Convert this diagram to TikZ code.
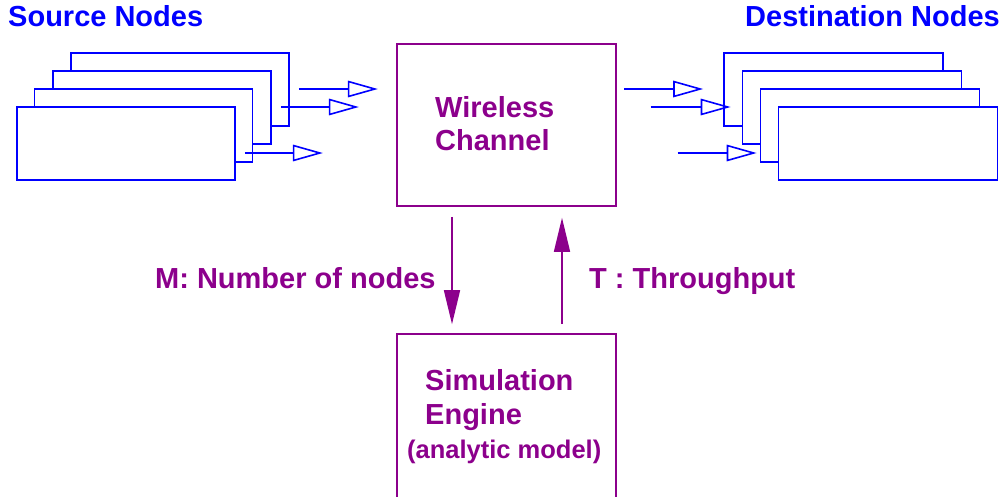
\documentclass[tikz,border=0pt]{standalone}
\usepackage{fontspec}
\setmainfont{Liberation Sans}
\usetikzlibrary{arrows.meta}
\definecolor{netblue}{RGB}{0,0,255}
\definecolor{simpurple}{RGB}{140,0,140}
\begin{document}
\begin{tikzpicture}[x=1pt,y=-1pt,
  nodecard/.style={draw=netblue,fill=white,line width=1.7pt,minimum width=218pt,minimum height=73pt,inner sep=0pt},
  destcard/.style={nodecard,minimum width=219pt},
  block/.style={draw=simpurple,line width=1.6pt,minimum width=219pt,inner sep=0pt},
  flow/.style={draw=netblue,line width=1.6pt,-{Triangle[open,length=30pt,width=16.5pt]}},
  link/.style={draw=simpurple,line width=1.6pt,-{Triangle[length=34pt,width=16pt]}},
  heading/.style={inner sep=0pt,anchor=base west,text=netblue,font=\bfseries\fontsize{29}{33}\selectfont},
  purpletext/.style={inner sep=0pt,anchor=base west,text=simpurple,font=\bfseries\fontsize{29}{33}\selectfont},
  smalltext/.style={purpletext,font=\bfseries\fontsize{25.5}{30}\selectfont}]
\clip (0,0) rectangle (1000,496);

% headings
\node[heading] (srclabel) at (8,26) {Source Nodes};
\node[heading] (dstlabel) at (745,26) {Destination Nodes};

% stacked source nodes, back to front
\node[nodecard] (src4) at (180,89.5) {};
\node[nodecard] (src3) at (162,107.5) {};
\node[nodecard] (src2) at (143.5,125.5) {};
\node[nodecard] (src1) at (126,143.5) {};

% stacked destination nodes, back to front
\node[destcard] (dst4) at (833.5,89.5) {};
\node[destcard] (dst3) at (852,107.5) {};
\node[destcard] (dst2) at (870,125.5) {};
\node[destcard] (dst1) at (888,143.5) {};

% wireless channel and simulation engine
\node[block,minimum height=162pt] (channel) at (506.5,125) {};
\node[block,minimum height=260pt] (engine) at (506.5,464) {};

\node[purpletext] (wl) at (435,117) {Wireless};
\node[purpletext] (ch) at (435,150) {Channel};
\node[purpletext] (sim) at (425,390) {Simulation};
\node[purpletext] (eng) at (425,424) {Engine};
\node[smalltext] (ana) at (407,458) {(analytic model)};

% transmissions into the channel
\draw[flow] ([shift={(9,-0.5)}]src4.east) -- ++(79,0);
\draw[flow] ([shift={(9,-0.5)}]src3.east) -- ++(78,0);
\draw[flow] ([shift={(9,9.5)}]src1.east) -- ++(78,0);

% receptions from the channel
\draw[flow] ([shift={(-99,-0.5)}]dst4.west) -- ([shift={(-20,-0.5)}]dst4.west);
\draw[flow] ([shift={(-91,-0.5)}]dst3.west) -- ([shift={(-11,-0.5)}]dst3.west);
\draw[flow] ([shift={(-82,27.5)}]dst2.west) -- ([shift={(-3,27.5)}]dst2.west);

% interaction between channel and engine
\draw[link,shorten <=10pt,shorten >=9pt] ([xshift=-54.5pt]channel.south) -- ([xshift=-54.5pt]engine.north);
\draw[link,shorten <=9pt,shorten >=11pt] ([xshift=55.5pt]engine.north) -- ([xshift=55.5pt]channel.south);

\node[purpletext] (mlabel) at (155,288) {M: Number of nodes};
\node[purpletext] (tlabel) at (589,288) {T : Throughput};
\end{tikzpicture}
\end{document}
